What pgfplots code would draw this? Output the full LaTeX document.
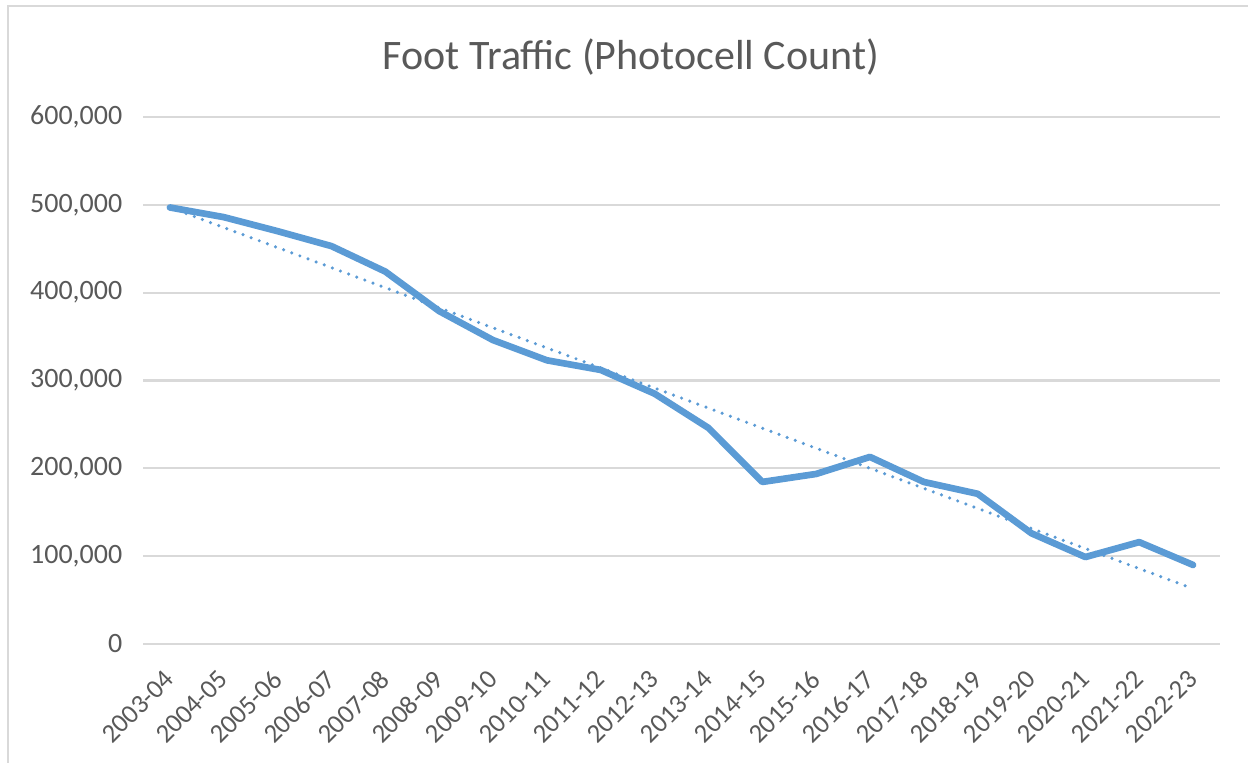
\documentclass[border=0pt]{standalone}
\usepackage{pgfplots}
\pgfplotsset{compat=1.18}
\usepackage{fontspec}
\setmainfont{Carlito}
\definecolor{txtc}{HTML}{595959}
\definecolor{gridc}{HTML}{D9D9D9}
\definecolor{linec}{HTML}{5B9BD5}
\begin{document}
\begin{tikzpicture}[x=0.75pt,y=0.75pt]
\useasboundingbox (0,0) rectangle (1248,763);
\fill[white] (0,0) rectangle (1248,763);
\draw[gridc, line width=1.6pt] (8,0) -- (8,757) -- (1248,757);
\node[text=txtc, font=\fontsize{31.5}{36}\selectfont] at (631,706) {Foot Traffic (Photocell Count)};
\begin{axis}[
  at={(143pt*0.75,119pt*0.75)}, anchor=south west,
  scale only axis,
  width=807.75pt, height=395.25pt,
  xmin=-0.5, xmax=19.5,
  ymin=0, ymax=600000,
  ytick={0,100000,200000,300000,400000,500000,600000},
  scaled y ticks=false,
  /pgf/number format/.cd, fixed, 1000 sep={,}, assume math mode=true,
  /pgfplots/.cd,
  xtick={0,...,19},
  xticklabels={2003-04,2004-05,2005-06,2006-07,2007-08,2008-09,2009-10,2010-11,2011-12,2012-13,2013-14,2014-15,2015-16,2016-17,2017-18,2018-19,2019-20,2020-21,2021-22,2022-23},
  x tick label style={xshift=-5pt, yshift=-17pt, rotate=45, anchor=north east, inner sep=1pt, font=\fontsize{20}{23}\selectfont, text=txtc},
  y tick label style={font=\fontsize{21}{24}\selectfont, text=txtc, xshift=-12pt},
  axis line style={draw=none},
  major tick length=0pt,
  xmajorgrids=false,
  ymajorgrids=true,
  grid style={draw=gridc, line width=1.6pt},
  clip=false,
]
\addplot[draw=linec, line width=5pt, line join=round, line cap=round] coordinates {
(0,497000) (1,486000) (2,470000) (3,453000) (4,424000) (5,379000) (6,346000) (7,323000) (8,312000) (9,285000) (10,246000) (11,184500) (12,193600) (13,213000) (14,184500) (15,171000) (16,126000) (17,99000) (18,116000) (19,90000)
};
\addplot[draw=linec, line width=2.6pt, line cap=round, dash pattern=on 0pt off 6.5pt] coordinates {
(0,497000) (19,63000)
};
\end{axis}
\end{tikzpicture}
\end{document}
